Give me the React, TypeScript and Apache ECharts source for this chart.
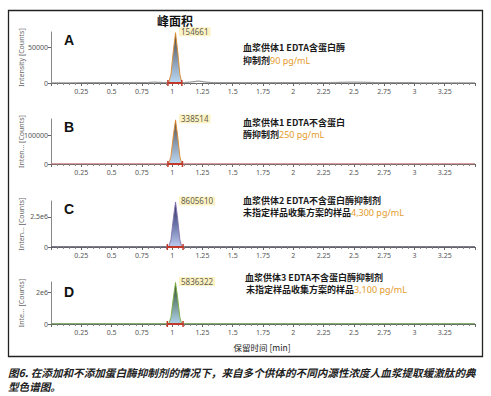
import React, { useEffect, useRef } from "react";
import * as echarts from "echarts";

// ---- data ----
const panelLetters = ["A", "B", "C", "D"];
const peakAreas = ["154661", "338514", "8605610", "5836322"];
const yMax = [71000, 157000, 3830000, 2630000];
const yTickValues = [[0, 50000], [0, 100000], [0, 2500000], [0, 2000000]];
const yAxisNames = ["Intensity [Counts]", "Inten... [Counts]", "Inten... [Counts]", "Inte... [Counts]"];
const xTicks = [0.25, 0.5, 0.75, 1, 1.25, 1.5, 1.75, 2, 2.25, 2.5, 2.75, 3, 3.25];

const traceX = [0, 0.3, 0.6, 0.8, 0.85, 0.9, 0.95, 0.97, 1.08, 1.12, 1.18, 1.22, 1.27, 1.32, 1.6, 2.0, 2.3, 2.5, 2.7, 3.0, 3.5];
const traceA = [300, 400, 500, 700, 1200, 800, 600, 500, 600, 900, 1800, 2600, 1500, 700, 500, 500, 600, 1100, 600, 400, 300];
const traceB = [300, 300, 300, 300, 300, 300, 300, 300, 300, 300, 300, 300, 300, 300, 300, 300, 300, 300, 300, 300, 300];
const traceC = [5000, 5000, 5000, 5000, 5000, 5000, 5000, 5000, 5000, 5000, 5000, 5000, 5000, 5000, 5000, 5000, 5000, 5000, 5000, 5000, 5000];
const traceD = [5000, 5000, 5000, 5000, 5000, 5000, 5000, 5000, 5000, 5000, 5000, 5000, 5000, 5000, 5000, 5000, 5000, 5000, 5000, 5000, 5000];
const traces = [traceA, traceB, traceC, traceD];

const peakX = [0.97, 0.99, 1.01, 1.028, 1.045, 1.064, 1.08];
const peakA = [0, 12000, 45000, 70000, 45000, 12000, 0];
const peakB = [0, 26000, 100000, 154000, 100000, 26000, 0];
const peakC = [0, 600000, 2400000, 3750000, 2400000, 600000, 0];
const peakD = [0, 400000, 1650000, 2600000, 1650000, 400000, 0];
const peaks = [peakA, peakB, peakC, peakD];
const integStart = [0.965, 0.965, 0.96, 0.96];
const integEnd = [1.08, 1.085, 1.09, 1.09];

const line1 = ["血浆供体1 EDTA含蛋白酶", "血浆供体1 EDTA不含蛋白", "血浆供体2 EDTA不含蛋白酶抑制剂", "血浆供体3 EDTA不含蛋白酶抑制剂"];
const line2 = ["抑制剂", "酶抑制剂", "未指定样品收集方案的样品", " 未指定样品收集方案的样品"];
const concentrations = ["90 pg/mL", "250 pg/mL", "4,300 pg/mL", "3,100 pg/mL"];

const chartTitle = "峰面积";
const xAxisTitle = "保留时间 [min]";
const caption1 = "图6. 在添加和不添加蛋白酶抑制剂的情况下，来自多个供体的不同内源性浓度人血浆提取缓激肽的典";
const caption2 = "型色谱图。";

// ---- styles ----
const gridTops = [32, 119, 201, 282];
const gridHeights = [51, 45, 46, 42];
const traceColors = ["#9a9a9a", "#c97d7d", "#5a506b", "#5e9048"];
const outlineColors = ["#d98a2c", "#e08a30", "#8373ad", "#7aab3c"];
const topColors = ["#4d4330", "#5a4630", "#2b2d5a", "#2f4a25"];
const midColors = ["#7f93aa", "#8596ab", "#6a74a8", "#6f8f8a"];
const bottomColors = ["#bcd8f2", "#bcd8f2", "#bccbf0", "#b0d2ec"];
const textY1 = [47, 122.5, 200, 277];
const textY2 = [60, 134, 212, 289];
const letterY = [41, 128, 210, 293];

const CJK = '"Noto Sans CJK SC", "Noto Sans", sans-serif';
const NUM = '"Noto Sans", "DejaVu Sans", sans-serif';

function fmtY(v: number) {
  if (v === 0) return "0";
  if (v >= 1000000) return v / 1000000 + "e6";
  return String(v);
}

export default function App() {
  const ref = useRef<HTMLDivElement>(null);
  useEffect(() => {
    if (!ref.current) return;
    const chart = echarts.init(ref.current, undefined, { renderer: "svg" });
    const grids: any[] = [];
    const xAxes: any[] = [];
    const yAxes: any[] = [];
    const series: any[] = [];
    const graphics: any[] = [];

    for (let i = 0; i < 4; i++) {
      grids.push({ left: 51, right: 16, top: gridTops[i], height: gridHeights[i] });
      xAxes.push({
        gridIndex: i,
        type: "value",
        min: 0,
        max: 3.5,
        interval: 0.25,
        axisLine: { lineStyle: { color: "#666", width: 1 } },
        axisTick: { length: 3, lineStyle: { color: "#666" } },
        minorTick: { show: true, splitNumber: 5, length: 2, lineStyle: { color: "#888" } },
        splitLine: { show: false },
        axisLabel: {
          fontSize: 7,
          color: "#555",
          fontFamily: NUM,
          margin: 5,
          customValues: xTicks,
          formatter: (v: number) => String(v),
        },
      });
      yAxes.push({
        gridIndex: i,
        type: "value",
        min: 0,
        max: yMax[i],
        axisLine: { show: true, lineStyle: { color: "#888" } },
        axisTick: { show: true, length: 3, customValues: yTickValues[i], lineStyle: { color: "#666" } },
        splitLine: { show: false },
        axisLabel: {
          fontSize: 7,
          color: "#555",
          fontFamily: NUM,
          margin: 3,
          customValues: yTickValues[i],
          formatter: (v: number) => fmtY(v),
        },
        name: yAxisNames[i],
        nameLocation: "middle",
        nameGap: 26,
        nameMoveOverlap: false,
        nameTextStyle: { fontSize: 7, color: "#666", fontFamily: NUM },
      });

      series.push({
        type: "line",
        xAxisIndex: i,
        yAxisIndex: i,
        data: traceX.map((x, k) => [x, traces[i][k]]),
        showSymbol: false,
        smooth: 0.3,
        lineStyle: { color: traceColors[i], width: 1.2 },
        z: 3,
      });
      series.push({
        type: "line",
        xAxisIndex: i,
        yAxisIndex: i,
        data: peakX.map((x, k) => [x, peaks[i][k]]),
        showSymbol: false,
        symbol: "none",
        color: outlineColors[i],
        lineStyle: { color: outlineColors[i], width: 0.9 },
        areaStyle: {
          opacity: 1,
          color: {
            type: "linear",
            x: 0,
            y: 0,
            x2: 0,
            y2: 1,
            colorStops: [
              { offset: 0, color: topColors[i] },
              { offset: 0.5, color: midColors[i] },
              { offset: 1, color: bottomColors[i] },
            ],
          },
        },
        z: 4,
      });
      series.push({
        type: "scatter",
        xAxisIndex: i,
        yAxisIndex: i,
        data: [[peakX[3], peaks[i][3]]],
        symbolSize: 1,
        itemStyle: { color: "rgba(0,0,0,0)" },
        label: {
          show: true,
          position: "right",
          distance: 3,
          offset: [0, -1],
          formatter: peakAreas[i],
          backgroundColor: "#fbefb4",
          padding: [1, 2, 0, 2],
          fontSize: 8,
          color: "#333",
          fontFamily: NUM,
        },
        z: 6,
      });
      series.push({
        type: "line",
        xAxisIndex: i,
        yAxisIndex: i,
        data: [
          [integStart[i], 0],
          [integEnd[i], 0],
        ],
        showSymbol: true,
        symbol: "rect",
        symbolSize: [1.5, 6],
        itemStyle: { color: "#c0392b" },
        lineStyle: { color: "#c0392b", width: 2 },
        z: 5,
      });

      graphics.push({
        type: "text",
        left: 64,
        top: letterY[i] - 8,
        style: { text: panelLetters[i], fontSize: 14, fontWeight: "bold", fill: "#111", fontFamily: '"Liberation Sans", Arial, sans-serif' },
      });
      graphics.push({
        type: "text",
        x: i === 3 ? 245 : 243,
        y: textY1[i],
        style: { text: line1[i], fontSize: 9, fontWeight: "bold", fill: "#1a1a1a", fontFamily: CJK, verticalAlign: "middle" },
      });
      graphics.push({
        type: "text",
        x: i === 3 ? 244 : 243,
        y: textY2[i],
        style: {
          text: "{a|" + line2[i] + "}{b|" + concentrations[i] + "}",
          verticalAlign: "middle",
          rich: {
            a: { fontSize: 9, fontWeight: "bold", fill: "#1a1a1a", color: "#1a1a1a", fontFamily: CJK, lineHeight: 10 },
            b: { fontSize: 9, fill: "#e39b2b", color: "#e39b2b", fontFamily: NUM, lineHeight: 10 },
          },
        },
      });
    }

    graphics.push({
      type: "rect",
      shape: { x: 8.5, y: 10.5, width: 474, height: 346 },
      style: { fill: "none", stroke: "#222", lineWidth: 1.3 },
      z: 100,
    });
    graphics.push({
      type: "text",
      x: 175,
      y: 20,
      style: { text: chartTitle, fontSize: 12, fontWeight: "bold", fill: "#111", fontFamily: CJK, align: "center", verticalAlign: "middle" },
    });
    graphics.push({
      type: "text",
      x: 262,
      y: 347,
      style: { text: xAxisTitle, fontSize: 8.5, fill: "#222", fontFamily: CJK, align: "center", verticalAlign: "middle" },
    });
    graphics.push({
      type: "text",
      x: 8,
      y: 372,
      style: { text: caption1, fontSize: 10.6, fontStyle: "italic", fontWeight: "bold", fill: "#222", fontFamily: CJK, verticalAlign: "middle" },
    });
    graphics.push({
      type: "text",
      x: 8,
      y: 386,
      style: { text: caption2, fontSize: 10.6, fontStyle: "italic", fontWeight: "bold", fill: "#222", fontFamily: CJK, verticalAlign: "middle" },
    });

    chart.setOption({
      animation: false,
      backgroundColor: "#fff",
      grid: grids,
      xAxis: xAxes,
      yAxis: yAxes,
      series,
      graphic: graphics,
    });
    return () => chart.dispose();
  }, []);
  return <div ref={ref} style={{ position: "absolute", left: 0, top: 0, width: 491, height: 396 }} />;
}
